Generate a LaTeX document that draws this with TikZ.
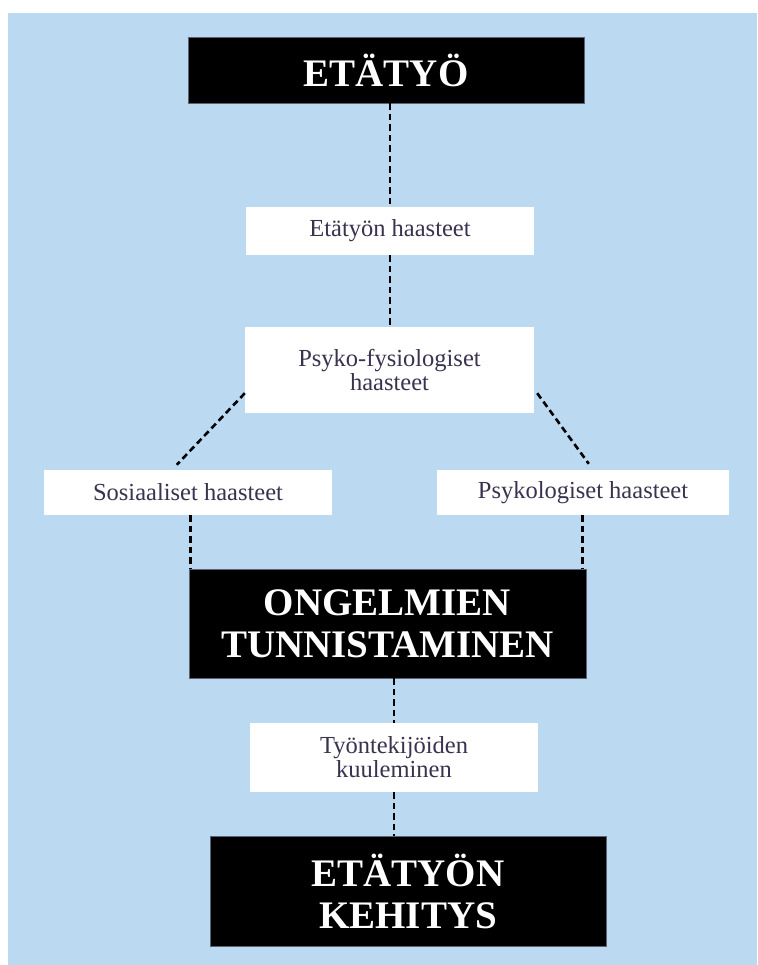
\documentclass[tikz,border=0pt]{standalone}
\usepackage{fontspec}
\setmainfont{Liberation Serif}
\usetikzlibrary{calc}
\definecolor{bgblue}{RGB}{187,218,242}
\definecolor{txtpurple}{RGB}{58,50,78}
\definecolor{edgegray}{RGB}{90,100,112}
\tikzset{
  titlebox/.style={fill=black, draw=edgegray, line width=0.8pt, text=white, align=center, inner sep=0pt,
    font={\fontsize{39}{42}\selectfont\bfseries}},
  labelbox/.style={fill=white, draw=none, text=txtpurple, align=center, inner sep=0pt,
    font={\fontsize{24.5}{24}\selectfont}},
  link/.style={draw=black, line width=2.6pt, dash pattern=on 6.5pt off 4pt}
}
\begin{document}
\begin{tikzpicture}[x=1pt,y=-1pt]
\useasboundingbox (0,0) rectangle (757,965);
\fill[bgblue] (8,13) rectangle (757,965);

\node[titlebox, minimum width=396pt, minimum height=66pt] (eta) at (386,70) {ETÄTYÖ};
\node[labelbox, minimum width=288pt, minimum height=48pt] (eh) at (390,231) {Etätyön haasteet};
\node[labelbox, minimum width=289pt, minimum height=86pt] (psy) at (389.5,370) {Psyko-fysiologiset\\haasteet};
\node[labelbox, minimum width=288pt, minimum height=45pt] (sos) at (188,492.5) {Sosiaaliset haasteet};
\node[labelbox, minimum width=292pt, minimum height=45pt] (psk) at (583,492.5) {Psykologiset haasteet};
\node[titlebox, minimum width=397pt, minimum height=109pt] (ong) at (387.5,623.5) {ONGELMIEN\\TUNNISTAMINEN};
\node[labelbox, minimum width=288pt, minimum height=69pt] (tyo) at (394,757.5) {Työntekijöiden\\kuuleminen};
\node[titlebox, minimum width=396pt, minimum height=110pt] (etk) at (408,891) {ETÄTYÖN\\KEHITYS};

\coordinate (cl) at ($(ong.north west)+(2,0)$);
\coordinate (cr) at ($(ong.north east)+(-4,0)$);

\draw[link] (eh.north |- eta.south) -- (eh.north);
\draw[link] (eh.south) -- (eh.south |- psy.north);
\draw[link] ([yshift=20pt]psy.south west) -- ([xshift=133pt,yshift=5pt]sos.north west);
\draw[link] ([xshift=3pt,yshift=20pt]psy.south east) -- ([xshift=152pt,yshift=6pt]psk.north west);
\draw[link] (cl |- sos.south) -- (cl);
\draw[link] (cr |- psk.south) -- (cr);
\draw[link] (tyo.north |- ong.south) -- (tyo.north);
\draw[link] (tyo.south) -- (tyo.south |- etk.north);
\end{tikzpicture}
\end{document}
